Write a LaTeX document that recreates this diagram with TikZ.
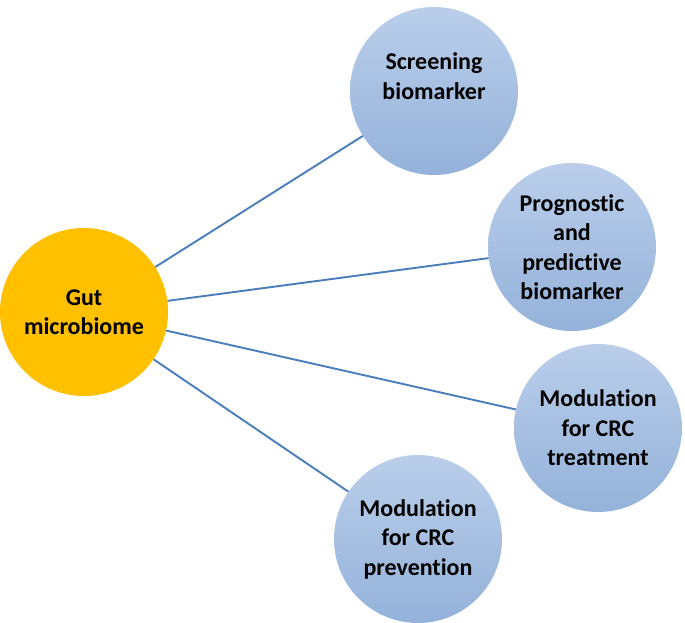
\documentclass[tikz,border=0pt]{standalone}
\usepackage{fontspec}
\setmainfont{Carlito}[Ligatures={TeX,NoCommon}]
\definecolor{mygold}{RGB}{255,192,0}
\definecolor{mylightblue}{RGB}{186,206,234}
\definecolor{mydarkblue}{RGB}{148,178,218}
\definecolor{myline}{RGB}{74,126,187}

\begin{document}
\begin{tikzpicture}[x=1pt,y=-1pt,
	every node/.style={circle,minimum size=168pt,inner sep=0pt,align=center,
		font=\fontsize{24}{29.5}\selectfont\bfseries},
	gutnode/.style={fill=mygold},
	usenode/.style={top color=mylightblue,bottom color=mydarkblue},
	linkline/.style={draw=myline,line width=1.9pt},
	]
	\useasboundingbox (0,0) rectangle (685,622);
	
	% the centre
	\node[gutnode] (gut) at (84,312) {Gut\\microbiome};
	
	% the uses
	\node[usenode] (s1) at (434,91) {Screening\\biomarker\\\mbox{}};
	\node[usenode] (s2) at (572,247) {Prognostic\\and\\predictive\\biomarker};
	\node[usenode] (s3) at (598,428) {Modulation\\for CRC\\treatment};
	\node[usenode] (s4) at (418,539) {Modulation\\for CRC\\prevention};
	
	% the edges
	\draw[linkline] (gut) -- (s1);
	\draw[linkline] (gut) -- (s2);
	\draw[linkline] (gut) -- (s3);
	\draw[linkline] (gut) -- (s4);
\end{tikzpicture}
\end{document}
